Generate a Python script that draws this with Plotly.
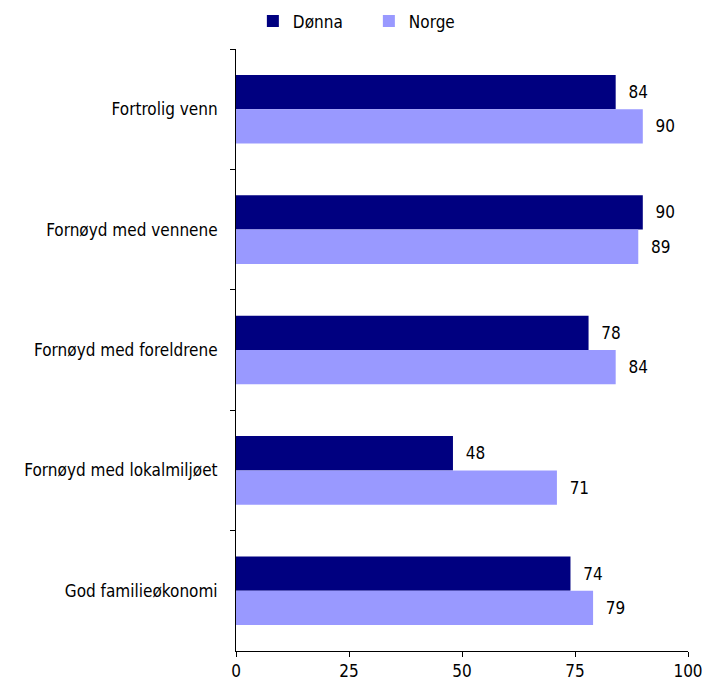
import plotly.graph_objects as go

categories = [
    "Fortrolig venn",
    "Fornøyd med vennene",
    "Fornøyd med foreldrene",
    "Fornøyd med lokalmiljøet",
    "God familieøkonomi",
]
donna = [84, 90, 78, 48, 74]
norge = [90, 89, 84, 71, 79]
x_ticks = [0, 25, 50, 75, 100]

font = dict(family="DejaVu Sans Condensed", size=17, color="#000000")

fig = go.Figure()
fig.add_trace(go.Bar(
    y=categories, x=donna, name="Dønna", orientation="h",
    marker=dict(color="#000080", line=dict(width=0)),
    texttemplate="  %{x}", textposition="outside", cliponaxis=False,
    textfont=font,
))
fig.add_trace(go.Bar(
    y=categories, x=norge, name="Norge", orientation="h",
    marker=dict(color="#9999FF", line=dict(width=0)),
    texttemplate="  %{x}", textposition="outside", cliponaxis=False,
    textfont=font,
))

fig.update_layout(
    width=708, height=684,
    margin=dict(l=236, r=20, t=49, b=33, autoexpand=False),
    paper_bgcolor="white", plot_bgcolor="white",
    barmode="group", bargap=0.43, bargroupgap=0,
    font=font,
    showlegend=True,
    legend=dict(
        orientation="h", x=0.521, xanchor="center", y=0.995, yanchor="top",
        yref="container", xref="container",
        font=dict(family="DejaVu Sans Condensed", size=17, color="#000000"),
        itemwidth=30, traceorder="normal", entrywidth=71,
    ),
    xaxis=dict(
        range=[0, 100], tickvals=x_ticks, ticktext=[str(v) for v in x_ticks],
        showgrid=False, zeroline=False,
        showline=True, linecolor="#000000", linewidth=1,
        ticks="outside", ticklen=5, tickcolor="#000000",
        tickfont=font,
    ),
    yaxis=dict(
        autorange="reversed", categoryorder="array", categoryarray=categories,
        showgrid=False, zeroline=False,
        showline=True, linecolor="#000000", linewidth=1,
        ticks="outside", ticklen=5, tickcolor="#000000",
        tickson="boundaries", ticklabelstandoff=14,
        tickfont=font,
    ),
)

fig.write_html("out.html")
